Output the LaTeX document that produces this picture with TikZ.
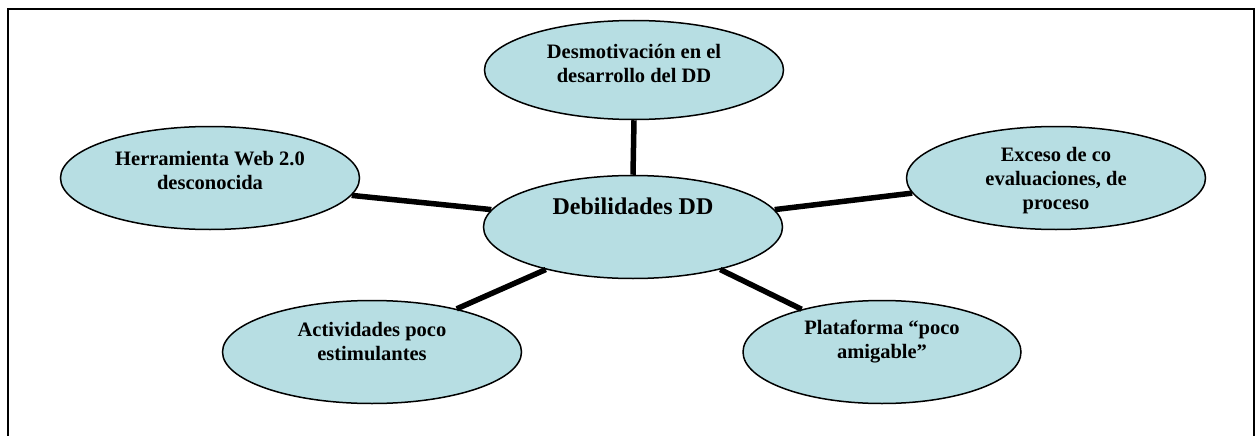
\documentclass[tikz,border=0pt]{standalone}
\usepackage{fontspec}
\setmainfont{Liberation Serif}
\usepackage{tikz}
\usetikzlibrary{shapes.geometric}

\definecolor{blobfill}{RGB}{183,222,227}

\begin{document}
\begin{tikzpicture}[x=1pt, y=-1pt,
    blob/.style={ellipse, draw, line width=1.5pt, fill=blobfill, inner sep=0pt,
                 minimum width=299pt, minimum height=103pt, align=center,
                 font=\fontsize{20.5}{24}\selectfont\bfseries},
    spoke/.style={line width=5.5pt}]
    \useasboundingbox (0,0) rectangle (1259,436);
    \draw[line width=2pt] (8,436) |- (1254,9) -- (1254,436);

    \node[blob, text depth=42pt, font=\fontsize{24}{28}\selectfont\bfseries] (deb) at (633,227) {Debilidades DD};
    \node[blob, minimum height=99pt, text depth=13pt] (desm) at (634,70) {Desmotivación en el\\desarrollo del DD};
    \node[blob, text depth=16pt] (herr) at (210,178) {Herramienta Web 2.0\\desconocida};
    \node[blob, text depth=0pt] (exc) at (1056,178) {Exceso de co\\evaluaciones, de\\proceso};
    \node[blob, text depth=21pt] (act) at (372,352) {Actividades poco\\estimulantes};
    \node[blob, minimum width=278pt, text depth=25pt] (plat) at (882,352) {Plataforma “poco\\amigable”};

    \draw[spoke] (deb.north) -- (desm.south)
          (deb.173) -- (herr.353)
          (deb.7) -- (exc.186)
          (deb.206) -- (act.27)
          (deb.334) -- (plat.152);
\end{tikzpicture}
\end{document}
